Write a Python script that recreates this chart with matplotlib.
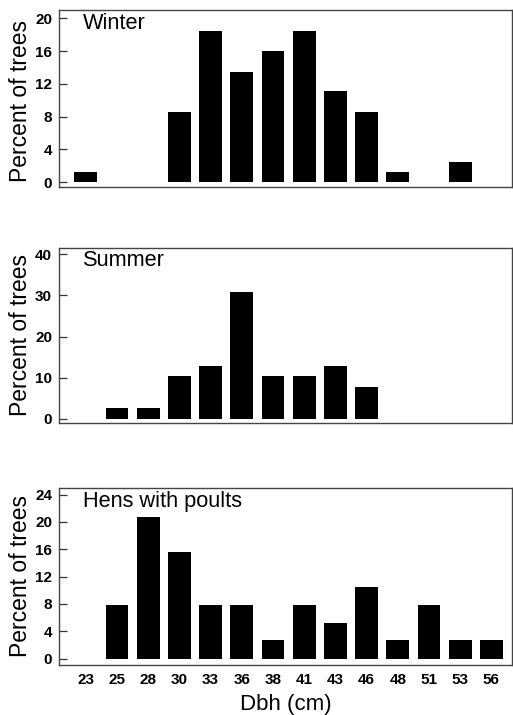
import matplotlib
matplotlib.use("Agg")
import matplotlib.pyplot as plt
import numpy as np

plt.rcParams['font.family'] = ['Liberation Sans', 'DejaVu Sans']

dbh_labels = ["23", "25", "28", "30", "33", "36", "38", "41", "43", "46", "48", "51", "53", "56"]

winter = [1.3, 0, 0, 8.6, 18.5, 13.5, 16.0, 18.5, 11.1, 8.6, 1.2, 0, 2.5, 0]
summer = [0, 2.5, 2.5, 10.3, 12.8, 30.8, 10.3, 10.3, 12.8, 7.7, 0, 0, 0, 0]
hens = [0, 7.9, 20.7, 15.6, 7.9, 7.9, 2.7, 7.9, 5.2, 10.5, 2.7, 7.9, 2.7, 2.7]

panel_titles = ["Winter", "Summer", "Hens with poults"]
y_ticks = [[0, 4, 8, 12, 16, 20], [0, 10, 20, 30, 40], [0, 4, 8, 12, 16, 20, 24]]
y_limits = [(-0.57, 21.0), (-1.1, 41.6), (-0.92, 25.0)]

fig = plt.figure(figsize=(5.13, 7.15), dpi=100)
W, H = 513, 715
left_px, right_px = 59, 512
panels_px = [(10, 187), (247.7, 423.3), (487.7, 665)]
title_y = [0.985, 0.985, 0.98]
ylab_y = [0.485, 0.5, 0.5]

series = [winter, summer, hens]
x = np.arange(len(dbh_labels))
for i, (top, bot) in enumerate(panels_px):
    ax = fig.add_axes([left_px / W, (H - bot) / H, (right_px - left_px) / W, (bot - top) / H])
    ax.bar(x, series[i], width=0.73, color='black', edgecolor='none')
    ax.set_xlim(-0.86, 13.66)
    ax.set_ylim(*y_limits[i])
    ax.set_yticks(y_ticks[i])
    ax.set_yticklabels([str(t) for t in y_ticks[i]], fontsize=11, fontweight='bold')
    ax.tick_params(axis='y', direction='in', length=6, width=0.9, pad=5, color='#333333')
    ax.set_xticks(x)
    if i == 2:
        ax.set_xticklabels(dbh_labels, fontsize=11, fontweight='bold')
        ax.set_xlabel("Dbh (cm)", fontsize=16, labelpad=5)
    else:
        ax.set_xticklabels([])
    ax.tick_params(axis='x', length=0, pad=6)
    for s in ax.spines.values():
        s.set_linewidth(1.0)
        s.set_color('#444444')
    ax.set_ylabel("Percent of trees", fontsize=16.5)
    ax.yaxis.set_label_coords(-0.06, ylab_y[i])
    ax.text(0.052, title_y[i], panel_titles[i], transform=ax.transAxes,
            fontsize=15.7, va='top', ha='left')

fig.savefig("out.png", dpi=100)
